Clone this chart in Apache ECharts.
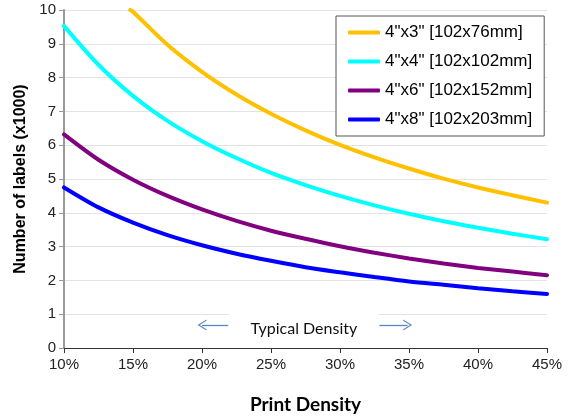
<!DOCTYPE html>
<html>
<head>
<meta charset="utf-8">
<script src="https://cdn.jsdelivr.net/npm/echarts@6/dist/echarts.min.js"></script>
<style>
html,body{margin:0;padding:0;background:#fff;}
#chart{width:569px;height:419px;}
</style>
</head>
<body>
<div id="chart"></div>
<script>
// Print density (%) sample points
const densityPoints = [10, 12.5, 15, 17.5, 20, 22.5, 25, 27.5, 30, 32.5, 35, 37.5, 40, 42.5, 45];
const yellowDensity = [14.8, 15, 17.5, 20, 22.5, 25, 27.5, 30, 32.5, 35, 37.5, 40, 42.5, 45];

// Number of labels (x1000)
const labels4x3 = [10.0, 9.95, 8.97, 8.17, 7.5, 6.93, 6.44, 6.01, 5.64, 5.31, 5.01, 4.75, 4.52, 4.3];
const labels4x4 = [9.53, 8.38, 7.46, 6.72, 6.12, 5.62, 5.18, 4.82, 4.50, 4.22, 3.97, 3.75, 3.56, 3.38, 3.22];
const labels4x6 = [6.32, 5.57, 4.98, 4.50, 4.10, 3.76, 3.47, 3.23, 3.01, 2.82, 2.65, 2.50, 2.37, 2.26, 2.15];
const labels4x8 = [4.75, 4.16, 3.71, 3.34, 3.04, 2.79, 2.58, 2.39, 2.24, 2.10, 1.97, 1.87, 1.77, 1.68, 1.60];

const seriesNames = ['4"x3" [102x76mm]', '4"x4" [102x102mm]', '4"x6" [102x152mm]', '4"x8" [102x203mm]'];
const seriesColors = ['#FFC000', '#00FFFF', '#800080', '#0000FF'];

// Annotation
const typicalText = 'Typical Density';
const typicalCenter = [27.38, 0.56];
const leftArrow = [[21.9, 0.68], [20.0, 0.68]];
const rightArrow = [[32.86, 0.68], [34.9, 0.68]];

const xTicks = { min: 10, max: 45, interval: 5 };
const yTicks = { min: 0, max: 10, interval: 1 };

function pairs(xs, ys) { return xs.map((x, i) => [x, ys[i]]); }

const chevron = 'path://M0,10 L5,0 L10,10 L8.8,10 L5,2.4 L1.2,10 Z';
const arrowColor = '#5B85C4';
const sansFont = '"Liberation Sans", Arial, sans-serif';

const chart = echarts.init(document.getElementById('chart'), null, { renderer: 'canvas' });

const dataSets = [pairs(yellowDensity, labels4x3), pairs(densityPoints, labels4x4), pairs(densityPoints, labels4x6), pairs(densityPoints, labels4x8)];

const series = dataSets.map((d, i) => ({
  name: seriesNames[i],
  type: 'line',
  data: d,
  smooth: 0.3,
  symbol: 'none',
  lineStyle: { width: 4, color: seriesColors[i], cap: 'round' },
  itemStyle: { color: seriesColors[i] },
  z: 3
}));

series.push({
  type: 'line',
  data: [],
  silent: true,
  z: 4,
  markLine: {
    silent: true,
    symbol: ['none', chevron],
    symbolSize: [11, 9],
    lineStyle: { color: arrowColor, width: 1.3, type: 'solid' },
    label: { show: false },
    data: [
      [{ coord: leftArrow[0] }, { coord: leftArrow[1] }],
      [{ coord: rightArrow[0] }, { coord: rightArrow[1] }]
    ]
  },
  markPoint: {
    silent: true,
    symbol: 'rect',
    symbolSize: [150, 32],
    itemStyle: { color: '#ffffff' },
    label: {
      show: true,
      position: 'inside',
      formatter: typicalText,
      fontFamily: 'Lato',
      fontSize: 16,
      color: '#111'
    },
    data: [{ coord: typicalCenter }]
  }
});

chart.setOption({
  animation: false,
  backgroundColor: '#ffffff',
  grid: { left: 64, right: 22, top: 10, bottom: 71, containLabel: false },
  legend: {
    orient: 'vertical',
    left: 336,
    top: 16,
    data: seriesNames,
    icon: 'roundRect',
    itemWidth: 32,
    itemHeight: 4,
    itemGap: 12,
    padding: [8, 12, 8, 12],
    backgroundColor: '#ffffff',
    borderColor: '#555555',
    borderWidth: 1,
    textStyle: { fontFamily: sansFont, fontSize: 17, color: '#000' }
  },
  xAxis: {
    type: 'value',
    min: xTicks.min,
    max: xTicks.max,
    interval: xTicks.interval,
    name: 'Print Density',
    nameLocation: 'middle',
    nameGap: 47,
    nameTextStyle: { fontFamily: 'Lato', fontWeight: 'bold', fontSize: 19, color: '#000' },
    axisLine: { show: true, onZero: false, lineStyle: { color: '#333', width: 1 } },
    axisTick: { show: true, inside: false, length: 5, lineStyle: { color: '#333' } },
    axisLabel: { formatter: '{value}%', fontFamily: sansFont, fontSize: 15, color: '#222', margin: 9 },
    splitLine: { show: false }
  },
  yAxis: {
    type: 'value',
    min: yTicks.min,
    max: yTicks.max,
    interval: yTicks.interval,
    name: 'Number of labels (x1000)',
    nameLocation: 'middle',
    nameGap: 33,
    nameTextStyle: { fontFamily: sansFont, fontWeight: 'bold', fontSize: 16, color: '#000' },
    axisLine: { show: true, lineStyle: { color: '#999', width: 2 } },
    axisTick: { show: true, inside: false, length: 5, lineStyle: { color: '#999' } },
    axisLabel: { fontFamily: sansFont, fontSize: 15, color: '#222', margin: 8 },
    splitLine: { show: true, lineStyle: { color: '#e3e3e3', width: 1 } }
  },
  series: series
});
</script>
</body>
</html>
